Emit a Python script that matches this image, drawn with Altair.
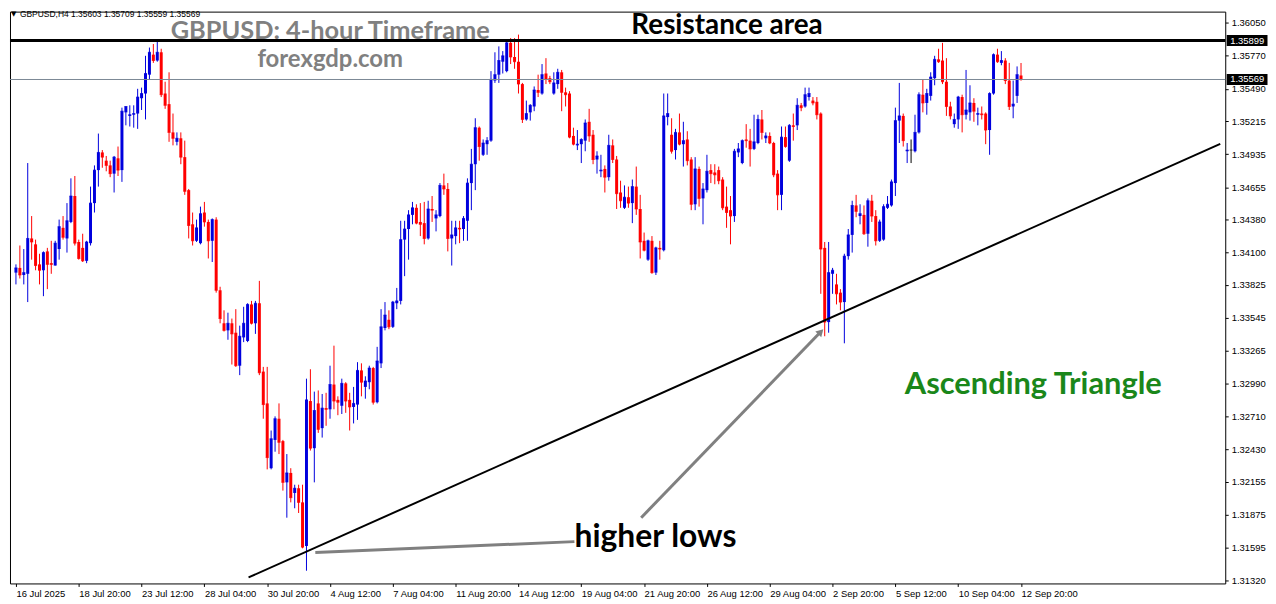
import altair as alt
import pandas as pd

opens = [1.3393,1.3397,1.3391,1.3392,1.3422,1.3417,1.3400,1.3395,1.3411,1.3401,
1.3399,1.3413,1.3431,1.3422,1.3436,1.3458,1.3419,1.3414,1.3403,1.3418,
1.3452,1.3480,1.3495,1.3488,1.3484,1.3477,1.3490,1.3480,1.3529,1.3526,
1.3527,1.3528,1.3541,1.3545,1.3561,1.3578,1.3573,1.3580,1.3545,1.3536,
1.3512,1.3504,1.3507,1.3491,1.3463,1.3434,1.3420,1.3418,1.3444,1.3436,
1.3420,1.3438,1.3378,1.3350,1.3344,1.3350,1.3342,1.3314,1.3338,1.3335,
1.3366,1.3350,1.3367,1.3309,1.3282,1.3227,1.3251,1.3269,1.3250,1.3215,
1.3223,1.3206,1.3210,1.3198,1.3161,1.3284,1.3244,1.3282,1.3261,1.3278,
1.3277,1.3298,1.3285,1.3280,1.3299,1.3285,1.3279,1.3281,1.3310,1.3296,
1.3300,1.3312,1.3283,1.3316,1.3346,1.3353,1.3347,1.3367,1.3369,1.3421,
1.3430,1.3442,1.3448,1.3436,1.3435,1.3422,1.3447,1.3439,1.3441,1.3467,
1.3464,1.3422,1.3424,1.3431,1.3430,1.3437,1.3469,1.3485,1.3516,1.3493,
1.3502,1.3505,1.3556,1.3561,1.3572,1.3564,1.3588,1.3576,1.3572,1.3553,
1.3523,1.3529,1.3534,1.3548,1.3545,1.3562,1.3558,1.3545,1.3553,1.3563,
1.3546,1.3545,1.3509,1.3501,1.3502,1.3505,1.3521,1.3510,1.3489,1.3479,
1.3481,1.3474,1.3501,1.3489,1.3461,1.3448,1.3457,1.3452,1.3466,1.3447,
1.3420,1.3404,1.3420,1.3393,1.3414,1.3412,1.3525,1.3510,1.3497,1.3512,
1.3502,1.3506,1.3489,1.3451,1.3481,1.3456,1.3463,1.3480,1.3478,1.3480,
1.3472,1.3449,1.3446,1.3441,1.3495,1.3486,1.3506,1.3505,1.3498,1.3503,
1.3523,1.3507,1.3509,1.3503,1.3477,1.3459,1.3508,1.3488,1.3518,1.3518,
1.3535,1.3534,1.3542,1.3539,1.3538,1.3528,1.3414,1.3351,1.3392,1.3383,
1.3376,1.3368,1.3407,1.3425,1.3450,1.3441,1.3442,1.3426,1.3454,1.3441,
1.3420,1.3421,1.3448,1.3450,1.3469,1.3522,1.3526,1.3496,1.3497,1.3496,
1.3512,1.3544,1.3537,1.3543,1.3558,1.3574,1.3573,1.3555,1.3534,1.3519,
1.3523,1.3542,1.3527,1.3529,1.3537,1.3527,1.3528,1.3528,1.3514,1.3545,
1.3578,1.3571,1.3573,1.3556,1.3534,1.3543,1.35603]

highs = [1.3400,1.3416,1.3413,1.3486,1.3441,1.3421,1.3409,1.3411,1.3414,1.3420,
1.3420,1.3438,1.3441,1.3452,1.3473,1.3475,1.3421,1.3426,1.3420,1.3466,
1.3484,1.3511,1.3497,1.3492,1.3488,1.3492,1.3500,1.3533,1.3534,1.3535,
1.3535,1.3549,1.3550,1.3577,1.3584,1.3587,1.3589,1.3583,1.3555,1.3563,
1.3528,1.3512,1.3512,1.3505,1.3464,1.3444,1.3438,1.3449,1.3453,1.3438,
1.3439,1.3440,1.3381,1.3361,1.3359,1.3354,1.3362,1.3348,1.3364,1.3367,
1.3369,1.3369,1.3386,1.3313,1.3313,1.3259,1.3271,1.3282,1.3251,1.3239,
1.3227,1.3213,1.3213,1.3213,1.3303,1.3311,1.3292,1.3293,1.3290,1.3291,
1.3314,1.3331,1.3288,1.3303,1.3300,1.3291,1.3296,1.3317,1.3316,1.3305,
1.3314,1.3313,1.3330,1.3362,1.3368,1.3361,1.3369,1.3380,1.3437,1.3437,
1.3446,1.3453,1.3451,1.3452,1.3453,1.3454,1.3458,1.3446,1.3469,1.3477,
1.3469,1.3437,1.3437,1.3437,1.3441,1.3473,1.3498,1.3524,1.3517,1.3506,
1.3508,1.3564,1.3580,1.3585,1.3581,1.3589,1.3592,1.3592,1.3595,1.3554,
1.3539,1.3536,1.3551,1.3561,1.3570,1.3575,1.3560,1.3563,1.3566,1.3565,
1.3550,1.3547,1.3516,1.3514,1.3507,1.3523,1.3532,1.3514,1.3496,1.3493,
1.3484,1.3510,1.3506,1.3492,1.3471,1.3467,1.3466,1.3472,1.3483,1.3459,
1.3427,1.3421,1.3424,1.3415,1.3420,1.3545,1.3545,1.3524,1.3515,1.3528,
1.3521,1.3513,1.3491,1.3491,1.3483,1.3469,1.3493,1.3485,1.3485,1.3483,
1.3474,1.3466,1.3458,1.3498,1.3503,1.3506,1.3519,1.3515,1.3527,1.3527,
1.3531,1.3512,1.3512,1.3504,1.3480,1.3517,1.3517,1.3519,1.3528,1.3541,
1.3537,1.3550,1.3550,1.3542,1.3542,1.3529,1.3419,1.3419,1.3397,1.3392,
1.3379,1.3409,1.3430,1.3454,1.3459,1.3451,1.3450,1.3456,1.3459,1.3446,
1.3438,1.3451,1.3458,1.3472,1.3533,1.3554,1.3528,1.3503,1.3506,1.3527,
1.3546,1.3557,1.3549,1.3563,1.3577,1.3583,1.3588,1.3575,1.3538,1.3528,
1.3543,1.3544,1.3565,1.3552,1.3541,1.3533,1.3534,1.3529,1.3546,1.3579,
1.3583,1.3581,1.3575,1.3571,1.3556,1.3568,1.35709]

lows = [1.3383,1.3388,1.3383,1.3368,1.3404,1.3395,1.3383,1.3373,1.3379,1.3392,
1.3399,1.3404,1.3421,1.3410,1.3435,1.3416,1.3404,1.3402,1.3401,1.3416,
1.3444,1.3466,1.3482,1.3479,1.3474,1.3461,1.3475,1.3470,1.3518,1.3517,
1.3516,1.3515,1.3531,1.3523,1.3557,1.3571,1.3572,1.3542,1.3532,1.3504,
1.3501,1.3501,1.3485,1.3459,1.3422,1.3416,1.3419,1.3417,1.3432,1.3405,
1.3402,1.3376,1.3350,1.3343,1.3336,1.3315,1.3313,1.3306,1.3334,1.3334,
1.3349,1.3341,1.3306,1.3269,1.3226,1.3226,1.3241,1.3239,1.3208,1.3185,
1.3198,1.3193,1.3189,1.3159,1.3140,1.3242,1.3215,1.3257,1.3253,1.3263,
1.3269,1.3277,1.3272,1.3273,1.3274,1.3259,1.3265,1.3268,1.3288,1.3286,
1.3294,1.3281,1.3282,1.3312,1.3344,1.3345,1.3346,1.3362,1.3366,1.3390,
1.3404,1.3434,1.3434,1.3424,1.3417,1.3421,1.3436,1.3428,1.3440,1.3459,
1.3411,1.3399,1.3417,1.3418,1.3420,1.3420,1.3446,1.3463,1.3488,1.3492,
1.3493,1.3504,1.3554,1.3554,1.3562,1.3563,1.3570,1.3566,1.3545,1.3520,
1.3522,1.3522,1.3530,1.3542,1.3544,1.3553,1.3553,1.3544,1.3549,1.3530,
1.3534,1.3507,1.3501,1.3497,1.3486,1.3496,1.3504,1.3485,1.3477,1.3474,
1.3461,1.3471,1.3486,1.3447,1.3448,1.3447,1.3448,1.3435,1.3442,1.3405,
1.3411,1.3403,1.3392,1.3391,1.3404,1.3411,1.3518,1.3494,1.3489,1.3501,
1.3483,1.3484,1.3446,1.3446,1.3449,1.3434,1.3461,1.3469,1.3468,1.3468,
1.3446,1.3431,1.3417,1.3436,1.3491,1.3485,1.3499,1.3483,1.3497,1.3502,
1.3506,1.3503,1.3502,1.3474,1.3446,1.3446,1.3499,1.3487,1.3505,1.3514,
1.3530,1.3533,1.3539,1.3535,1.3523,1.3375,1.3339,1.3342,1.3375,1.3366,
1.3361,1.3333,1.3404,1.3410,1.3440,1.3434,1.3425,1.3415,1.3436,1.3416,
1.3419,1.3420,1.3447,1.3449,1.3458,1.3503,1.3500,1.3486,1.3486,1.3495,
1.3511,1.3529,1.3527,1.3539,1.3552,1.3571,1.3553,1.3526,1.3523,1.3516,
1.3515,1.3512,1.3523,1.3522,1.3521,1.3518,1.3523,1.3502,1.3493,1.3544,
1.3571,1.3569,1.3553,1.3531,1.3524,1.3537,1.35559]

closes = [1.3397,1.3391,1.3393,1.3422,1.3419,1.3399,1.3395,1.3410,1.3400,1.3400,
1.3418,1.3432,1.3423,1.3437,1.3458,1.3418,1.3405,1.3403,1.3419,1.3452,
1.3480,1.3495,1.3491,1.3484,1.3477,1.3491,1.3480,1.3530,1.3534,1.3527,
1.3528,1.3542,1.3545,1.3562,1.3580,1.3573,1.3580,1.3544,1.3535,1.3512,
1.3507,1.3507,1.3491,1.3462,1.3433,1.3420,1.3431,1.3443,1.3436,1.3420,
1.3438,1.3378,1.3354,1.3344,1.3350,1.3341,1.3314,1.3339,1.3350,1.3366,
1.3350,1.3367,1.3308,1.3281,1.3236,1.3252,1.3269,1.3249,1.3215,1.3223,
1.3202,1.3210,1.3198,1.3160,1.3285,1.3244,1.3276,1.3260,1.3278,1.3277,
1.3298,1.3284,1.3283,1.3299,1.3284,1.3279,1.3282,1.3310,1.3300,1.3301,
1.3312,1.3283,1.3318,1.3347,1.3357,1.3347,1.3368,1.3369,1.3421,1.3430,
1.3442,1.3448,1.3435,1.3434,1.3422,1.3447,1.3446,1.3442,1.3467,1.3464,
1.3422,1.3425,1.3431,1.3430,1.3439,1.3469,1.3485,1.3516,1.3500,1.3503,
1.3505,1.3557,1.3561,1.3573,1.3577,1.3588,1.3576,1.3572,1.3553,1.3523,
1.3528,1.3535,1.3548,1.3546,1.3561,1.3557,1.3555,1.3554,1.3563,1.3546,
1.3544,1.3508,1.3502,1.3502,1.3506,1.3520,1.3509,1.3489,1.3492,1.3480,
1.3474,1.3501,1.3489,1.3460,1.3454,1.3457,1.3452,1.3466,1.3447,1.3419,
1.3412,1.3420,1.3393,1.3414,1.3413,1.3526,1.3528,1.3496,1.3512,1.3502,
1.3505,1.3488,1.3451,1.3481,1.3456,1.3464,1.3479,1.3477,1.3476,1.3471,
1.3448,1.3444,1.3441,1.3496,1.3498,1.3505,1.3505,1.3498,1.3504,1.3523,
1.3512,1.3509,1.3503,1.3476,1.3459,1.3508,1.3500,1.3518,1.3517,1.3535,
1.3533,1.3544,1.3545,1.3537,1.3527,1.3413,1.3351,1.3393,1.3395,1.3375,
1.3368,1.3407,1.3425,1.3450,1.3445,1.3443,1.3426,1.3454,1.3441,1.3420,
1.3436,1.3449,1.3451,1.3470,1.3522,1.3526,1.3505,1.3497,1.3497,1.3512,
1.3544,1.3537,1.3545,1.3559,1.3574,1.3572,1.3555,1.3534,1.3526,1.3523,
1.3542,1.3527,1.3531,1.3537,1.3530,1.3528,1.3527,1.3514,1.3545,1.3578,
1.3572,1.3573,1.3556,1.3534,1.3536,1.3561,1.35569]

x_labels = ['16 Jul 2025', '18 Jul 20:00', '23 Jul 12:00', '28 Jul 04:00', '30 Jul 20:00',
            '4 Aug 12:00', '7 Aug 04:00', '11 Aug 20:00', '14 Aug 12:00', '19 Aug 04:00',
            '21 Aug 20:00', '26 Aug 12:00', '29 Aug 04:00', '2 Sep 20:00', '5 Sep 12:00',
            '10 Sep 04:00', '12 Sep 20:00']
y_ticks = [1.36050, 1.35770, 1.35490, 1.35215, 1.34935, 1.34655, 1.34380, 1.34100, 1.33825,
           1.33545, 1.33265, 1.32990, 1.32710, 1.32430, 1.32155, 1.31875, 1.31595, 1.31320]
resistance = [1.35899]
bid = [1.35569]
trend_i = [59.25, 306.75]
trend_p = [1.31343, 1.35023]
header = "GBPUSD,H4  1.35603 1.35709 1.35559 1.35569"

W, H = 1222, 575
df = pd.DataFrame({"i": list(range(len(opens))), "open": opens, "high": highs,
                   "low": lows, "close": closes})

xs = alt.Scale(domain=[-0.25, 306.75], nice=False, zero=False)
ys = alt.Scale(domain=[1.31292, 1.36145], nice=False, zero=False)
label_expr = "[" + ",".join("'" + s + "'" for s in x_labels) + "][round(datum.value/16)]"
xaxis = alt.Axis(values=[16 * k for k in range(len(x_labels))], labelExpr=label_expr, title=None,
                 grid=False, domain=False, tickSize=3, tickColor="black", labelAlign="left",
                 labelPadding=2, labelFont="Liberation Sans", labelFontSize=9.5,
                 labelColor="black", labelOverlap=False, labelFlush=False, labelBound=False)
yaxis = alt.Axis(orient="right", values=y_ticks, format=".5f", title=None, grid=False,
                 domain=False, tickSize=3, tickColor="black", labelPadding=3,
                 labelFont="Liberation Sans", labelFontSize=9.5, labelColor="black",
                 labelOverlap=False, labelFlush=False, labelBound=False)

def X(f="i"):
    return alt.X(f + ":Q", scale=xs, axis=xaxis)

def Y(f):
    return alt.Y(f + ":Q", scale=ys, axis=yaxis)

cscale = alt.Scale(domain=["up", "down", "flat"], range=["#0000DD", "#FF0000", "#000000"])
base = alt.Chart(df).transform_calculate(
    dir="datum.close > datum.open ? 'up' : (datum.close < datum.open ? 'down' : 'flat')")
col = alt.Color("dir:N", scale=cscale, legend=None)

wick = base.mark_rule(strokeWidth=1).encode(x=X(), y=Y("low"), y2="high:Q", color=col)
body = base.mark_bar(size=3).encode(x=X(), y=Y("open"), y2="close:Q", color=col)
tick = base.mark_tick(orient="horizontal", size=3, thickness=1).encode(x=X(), y=Y("close"), color=col)

res_line = alt.Chart(pd.DataFrame({"p": resistance})).mark_rule(
    color="black", strokeWidth=3).encode(y=Y("p"))
bid_line = alt.Chart(pd.DataFrame({"p": bid})).mark_rule(
    color="#7B8794", strokeWidth=1).encode(y=Y("p"))
trend = alt.Chart(pd.DataFrame({"i": trend_i, "p": trend_p})).mark_line(
    color="black", strokeWidth=2).encode(x=X(), y=Y("p"))

gray_df = pd.DataFrame({"i": [76.25, 142.25, 159.25, 205.0],
                        "p": [1.31554, 1.31647, 1.31850, 1.33428],
                        "g": ["a", "a", "b", "b"]})
gray = alt.Chart(gray_df).mark_line(color="#808080", strokeWidth=3).encode(
    x=X(), y=Y("p"), detail="g:N")
arrow = alt.Chart(pd.DataFrame({"i": [205.0], "p": [1.33428]})).mark_point(
    shape="triangle-up", angle=44, filled=True, color="#808080", size=70, opacity=1).encode(
    x=X(), y=Y("p"))

def txt(s, x, y, size, color, align="center", font="Lato", weight="bold", baseline="alphabetic"):
    return alt.Chart(pd.DataFrame({"t": [s]})).mark_text(
        font=font, fontSize=size, fontWeight=weight, color=color, align=align,
        baseline=baseline).encode(x=alt.value(x), y=alt.value(y), text="t:N")

texts = [
    txt("Resistance area", 721, 23, 28, "black"),
    txt("GBPUSD: 4-hour Timeframe", 322, 28, 25.5, "#808080"),
    txt("forexgdp.com", 322, 56, 24, "#808080"),
    txt("Ascending Triangle", 1029, 384, 31, "#1A871A"),
    txt("higher lows", 649, 538, 32, "black"),
    txt(header, 10, 2, 8.5, "black", align="left", font="Liberation Sans", weight="normal",
        baseline="middle"),
    txt("\u25bc", 1, 2, 7, "black", align="left", font="DejaVu Sans", weight="normal",
        baseline="middle"),
]

tag_df = pd.DataFrame({"p": resistance + bid})
tag_box = alt.Chart(tag_df).mark_point(
    shape="M-1,-0.27L1,-0.27L1,0.27L-1,0.27Z", filled=True, color="black", opacity=1,
    size=1681, strokeWidth=0).encode(x=alt.value(W + 22), y=Y("p"))
tag_txt = alt.Chart(tag_df).mark_text(
    font="Liberation Sans", fontSize=9.5, color="white", align="left", baseline="middle").encode(
    x=alt.value(W + 5), y=Y("p"), text=alt.Text("p:Q", format=".5f"))

chart = alt.layer(wick, body, tick, res_line, bid_line, trend, gray, arrow, *texts,
                  tag_box, tag_txt).properties(
    width=W, height=H, padding={"left": 0, "top": 0, "right": 0, "bottom": 0},
    background="white").configure_view(stroke="black", strokeWidth=1)

chart.save("out.html", embed_options={"renderer": "svg", "actions": False})
